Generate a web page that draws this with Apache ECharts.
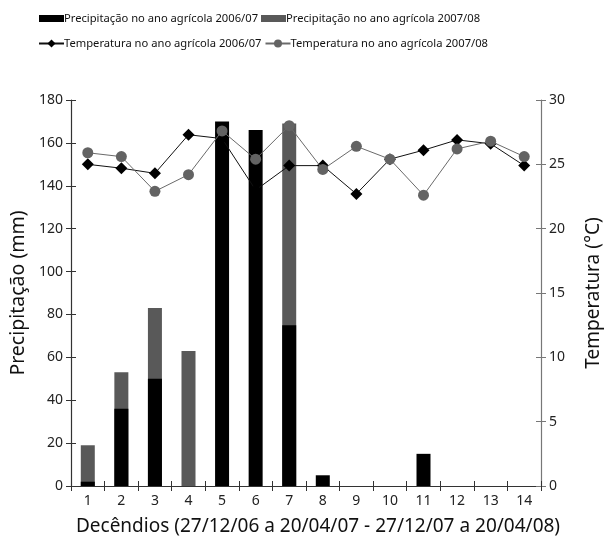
<!DOCTYPE html>
<html><head><meta charset="utf-8">
<script src="https://cdn.jsdelivr.net/npm/echarts@6/dist/echarts.min.js"></script>
<style>html,body{margin:0;padding:0;background:#fff}#c{width:605px;height:539px}</style>
</head><body><div id="c"></div>
<script>
const categories = ['1','2','3','4','5','6','7','8','9','10','11','12','13','14'];
const precip0607 = [2, 36, 50, 0, 170, 166, 75, 5, 0, 0, 15, 0, 0, 0];
const precip0708 = [19, 53, 83, 63, null, null, 169, 0, 0, 0, 0, 0, 0, 0];
const temp0607 = [25.0, 24.7, 24.3, 27.3, 27.0, 23.0, 24.9, 24.9, 22.7, 25.4, 26.1, 26.9, 26.6, 24.9];
const temp0708 = [25.9, 25.6, 22.9, 24.2, 27.6, 25.4, 28.0, 24.6, 26.4, 25.4, 22.6, 26.2, 26.8, 25.6];
const names = ['Precipitação no ano agrícola 2006/07','Precipitação no ano agrícola 2007/08',
  'Temperatura no ano agrícola 2006/07','Temperatura no ano agrícola 2007/08'];

const font = 'Noto Sans';
const chart = echarts.init(document.getElementById('c'));
chart.setOption({
  backgroundColor: '#fff',
  animation: false,
  textStyle: {fontFamily: font},
  legend: [
    {data: [names[0], names[1]], left: 34, top: 8, itemGap: 3, itemWidth: 25, itemHeight: 7,
     textStyle: {fontSize: 11.2, color: '#111', padding: [0,0,0,-5]}, icon: 'rect'},
    {data: [names[2], names[3]], left: 33, top: 33, itemGap: 3, itemWidth: 25, itemHeight: 10,
     textStyle: {fontSize: 11.2, color: '#111', padding: [0,0,0,-5]}}
  ],
  grid: {left: 71, right: 64, top: 100, bottom: 53, containLabel: false, outerBoundsMode: 'none'},
  xAxis: [
    {type: 'category', data: categories, boundaryGap: true,
     name: 'Decêndios (27/12/06 a 20/04/07 - 27/12/07 a 20/04/08)', nameLocation: 'middle', nameGap: 31,
     nameTextStyle: {fontSize: 19, color: '#111', padding: [0, 0, 0, 24]},
     axisLine: {lineStyle: {color: '#333', width: 1.2}},
     axisTick: {show: true, length: 5, lineStyle: {color: '#333'}},
     axisLabel: {fontSize: 14, color: '#222', margin: 8}},
    {type: 'category', data: categories, boundaryGap: true, position: 'bottom',
     axisLine: {show: false}, axisTick: {show: true, inside: true, length: 5, lineStyle: {color: '#333'}},
     axisLabel: {show: false}}
  ],
  yAxis: [
    {type: 'value', min: 0, max: 180, interval: 20, position: 'left',
     name: 'Precipitação (mm)', nameLocation: 'middle', nameGap: 43, nameRotate: 90,
     nameTextStyle: {fontSize: 19.5, color: '#111'},
     axisLine: {show: true, lineStyle: {color: '#333', width: 1.2}},
     axisTick: {show: true, length: 5, lineStyle: {color: '#333'}},
     axisLabel: {fontSize: 14, color: '#222', margin: 8},
     splitLine: {show: false}},
    {type: 'value', min: 0, max: 30, interval: 5, position: 'right',
     name: 'Temperatura (°C)', nameLocation: 'middle', nameGap: 43, nameRotate: 90,
     nameTextStyle: {fontSize: 19, color: '#111'},
     axisLine: {show: true, lineStyle: {color: '#777', width: 1.2}},
     axisTick: {show: true, length: 5, lineStyle: {color: '#777'}},
     axisLabel: {fontSize: 14, color: '#222', margin: 8},
     splitLine: {show: false}},
    {type: 'value', min: 0, max: 180, interval: 20, position: 'left',
     axisLine: {show: false}, axisTick: {show: true, inside: true, length: 5, lineStyle: {color: '#333'}},
     axisLabel: {show: false}, splitLine: {show: false}},
    {type: 'value', min: 0, max: 30, interval: 5, position: 'right',
     axisLine: {show: false}, axisTick: {show: true, inside: true, length: 5, lineStyle: {color: '#777'}},
     axisLabel: {show: false}, splitLine: {show: false}}
  ],
  series: [
    {name: names[1], type: 'bar', data: precip0708, barWidth: 14, barGap: '-100%',
     itemStyle: {color: '#595959'}},
    {name: names[0], type: 'bar', data: precip0607, barWidth: 14, barGap: '-100%',
     itemStyle: {color: '#000'}},
    {name: names[2], type: 'line', yAxisIndex: 1, data: temp0607, symbol: 'diamond', symbolSize: 12,
     lineStyle: {color: '#111', width: 1}, itemStyle: {color: '#000'}, z: 5},
    {name: names[3], type: 'line', yAxisIndex: 1, data: temp0708, symbol: 'circle', symbolSize: 11,
     lineStyle: {color: '#6a6a6a', width: 1}, itemStyle: {color: '#636363'}, z: 6}
  ]
});
</script></body></html>
